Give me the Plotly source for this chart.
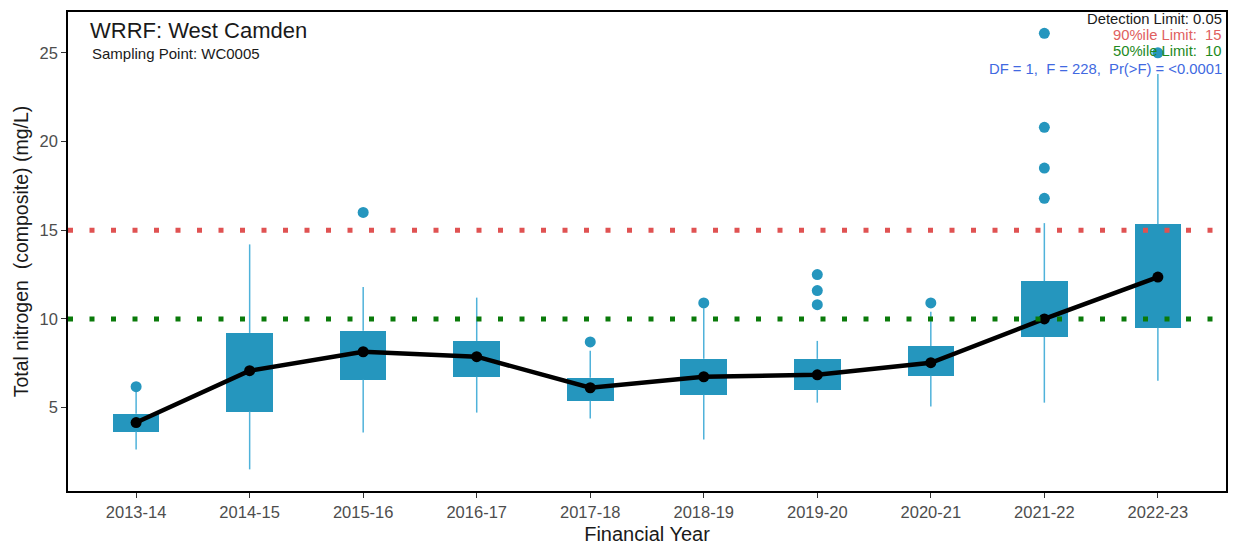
import plotly.graph_objects as go

years = ["2013-14", "2014-15", "2015-16", "2016-17", "2017-18",
         "2018-19", "2019-20", "2020-21", "2021-22", "2022-23"]
q1 = [3.65, 4.78, 6.57, 6.74, 5.39, 5.73, 6.00, 6.80, 8.99, 9.50]
median = [4.16, 7.08, 8.15, 7.87, 6.12, 6.74, 6.85, 7.53, 10.00, 12.36]
q3 = [4.66, 9.21, 9.33, 8.76, 6.69, 7.75, 7.75, 8.48, 12.13, 15.34]
lower = [2.64, 1.52, 3.60, 4.72, 4.38, 3.20, 5.28, 5.06, 5.28, 6.52]
upper = [5.90, 14.20, 11.80, 11.20, 8.20, 10.60, 8.76, 10.40, 15.40, 23.80]
outliers = {
    "2013-14": [6.18],
    "2015-16": [16.0],
    "2017-18": [8.7],
    "2018-19": [10.9],
    "2019-20": [12.5, 11.6, 10.8],
    "2020-21": [10.9],
    "2021-22": [26.1, 20.8, 18.5, 16.8],
    "2022-23": [25.0],
}
limit90 = 15
limit50 = 10
y_ticks = [5, 10, 15, 20, 25]

BOX = "#2596BE"
WHISK = "#4FB2DA"
FONT = "Liberation Sans, Arial, sans-serif"

fig = go.Figure()

# whiskers (two segments each, so they do not cross the box)
wx, wy = [], []
for c, lo, a, b, hi in zip(years, lower, q1, q3, upper):
    wx += [c, c, None, c, c, None]
    wy += [lo, a, None, b, hi, None]
fig.add_trace(go.Scatter(x=wx, y=wy, mode="lines",
                         line=dict(color=WHISK, width=1.5),
                         hoverinfo="skip", showlegend=False))

# boxes
fig.add_trace(go.Bar(x=years, base=q1, y=[b - a for a, b in zip(q1, q3)],
                     width=0.41, marker=dict(color=BOX, line=dict(width=0)),
                     showlegend=False))

# outliers
ox, oy = [], []
for c, vals in outliers.items():
    for v in vals:
        ox.append(c)
        oy.append(v)
fig.add_trace(go.Scatter(x=ox, y=oy, mode="markers",
                         marker=dict(color=BOX, size=11),
                         showlegend=False))

# limit lines
fig.add_hline(y=limit90, line=dict(color="#E05252", width=5, dash="5px,16.5px"),
              layer="above")
fig.add_hline(y=limit50, line=dict(color="#0A7A0A", width=5, dash="5px,16.5px"),
              layer="above")

# median line
fig.add_trace(go.Scatter(x=years, y=median, mode="lines+markers",
                         line=dict(color="black", width=4.5),
                         marker=dict(color="black", size=11),
                         showlegend=False))

# annotations
fig.add_annotation(xref="paper", yref="paper", x=0.0175, y=0.961, xanchor="left", yanchor="middle",
                   text="WRRF: West Camden", showarrow=False,
                   font=dict(size=22, color="#1a1a1a", family=FONT))
fig.add_annotation(xref="paper", yref="paper", x=0.019, y=0.913, xanchor="left", yanchor="middle",
                   text="Sampling Point: WC0005", showarrow=False,
                   font=dict(size=15, color="#1a1a1a", family=FONT))

right_texts = [
    ("Detection Limit: 0.05", "#1a1a1a"),
    ("90%ile Limit:  15", "#E06060"),
    ("50%ile Limit:  10", "#1E8A1E"),
    ("DF = 1,  F = 228,  Pr(>F) = <0.0001", "#4169E1"),
]
right_y = [0.985, 0.951, 0.9186, 0.882]
for (t, col), yy in zip(right_texts, right_y):
    fig.add_annotation(xref="paper", yref="paper", x=0.998, y=yy,
                       xanchor="right", yanchor="middle", text=t, showarrow=False,
                       font=dict(size=14.8, color=col, family=FONT))

fig.update_layout(
    width=1234, height=550,
    margin=dict(l=68, r=6, t=12, b=59),
    plot_bgcolor="white", paper_bgcolor="white",
    font=dict(family=FONT, color="#1a1a1a"),
    bargap=0,
)
fig.update_xaxes(
    type="category", range=[-0.6, 9.6],
    showline=True, linecolor="black", linewidth=1.5, mirror=True,
    ticks="outside", ticklen=5, tickcolor="#333", tickwidth=1.2,
    tickfont=dict(size=16.5, color="#4d4d4d"),
    showgrid=False, zeroline=False,
    title=dict(text="Financial Year", font=dict(size=20, color="#1a1a1a"), standoff=7),
)
fig.update_yaxes(
    range=[0.3, 27.3], tickvals=y_ticks,
    showline=True, linecolor="black", linewidth=1.5, mirror=True,
    ticks="outside", ticklen=5, tickcolor="#333", tickwidth=1.2,
    tickfont=dict(size=16.5, color="#4d4d4d"),
    showgrid=False, zeroline=False,
    title=dict(text="Total nitrogen  (composite) (mg/L)", font=dict(size=19.5, color="#1a1a1a"), standoff=6),
)

fig.write_html("out.html", config={"displayModeBar": False},
               post_script="document.body.style.margin='0';document.body.style.overflow='hidden';")
